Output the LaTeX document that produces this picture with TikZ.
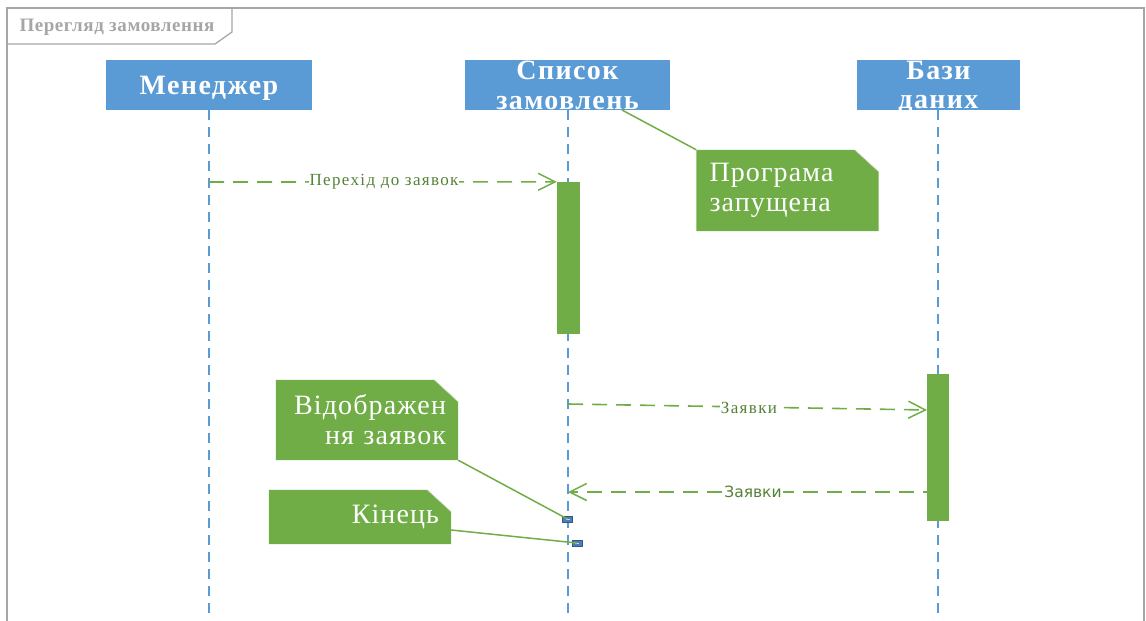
\documentclass[tikz,border=0pt]{standalone}
\usepackage{fontspec}
\setmainfont{Liberation Serif}
\newfontfamily\labelsans{DejaVu Sans}
\usetikzlibrary{arrows.meta,backgrounds,calc}

\definecolor{lifeblue}{HTML}{5B9BD5}
\definecolor{actgreen}{HTML}{70AD47}
\definecolor{txtgreen}{HTML}{548235}
\definecolor{framegray}{HTML}{A6A6A6}
\definecolor{markblue}{HTML}{4A7EBB}
\definecolor{foldgray}{HTML}{C9D8BE}

\tikzset{
  header/.style={fill=lifeblue, text=white, inner sep=0pt,
    font=\fontsize{28}{29.5}\selectfont\bfseries\addfontfeature{LetterSpace=5},
    align=center, minimum height=50pt, text depth=0pt},
  lifeline/.style={lifeblue, line width=1.6pt, dash pattern=on 10pt off 7pt},
  actbar/.style={fill=actgreen, draw=none, inner sep=0pt, minimum width=22pt},
  msg/.style={actgreen, line width=1.6pt, dash pattern=on 15pt off 9pt,
    -{Straight Barb[length=17pt,width=17pt,line width=1.5pt]}},
  msglabel/.style={fill=white, inner sep=1pt, text=txtgreen,
    font=\fontsize{17}{19}\selectfont\addfontfeature{LetterSpace=8}},
  notebox/.style={text=white, inner sep=0pt, minimum width=182pt,
    font=\fontsize{28}{30}\selectfont\addfontfeature{LetterSpace=4}},
  noteline/.style={actgreen, line width=1.5pt},
  marker/.style={fill=markblue, draw=markblue!70!black, line width=0.4pt,
    inner sep=0pt, minimum width=10pt, minimum height=6pt},
}

% green note with folded top-right corner, drawn behind the named node
\newcommand\foldnote[1]{%
  \begin{scope}[on background layer]
    \fill[actgreen] (#1.south west) -- (#1.south east)
      -- ($(#1.north east)+(0,22)$) -- ($(#1.north east)+(-24,0)$)
      -- (#1.north west) -- cycle;
    \draw[foldgray, line width=0.6pt] ($(#1.north east)+(-24,0)$)
      -- ($(#1.north east)+(0,22)$);
  \end{scope}}

\begin{document}
\begin{tikzpicture}[x=1pt,y=-1pt]
\useasboundingbox (0,0) rectangle (1146,621);

% frame and title tab
\draw[framegray, line width=1.3pt] (7,621) -- (7,8) -- (1144,8) -- (1144,621);
\draw[framegray, line width=1.3pt] (232,8) -- (232,32) -- (215,44) -- (7,44);
\node[text=framegray, font=\fontsize{19}{21}\selectfont\bfseries\addfontfeature{LetterSpace=3}]
  (title) at (117,27) {Перегляд замовлення};

% lifeline heads
\node[header, minimum width=206pt] (mgr) at (209,85) {Менеджер};
\node[header, minimum width=205pt] (lst) at (567.5,85) {Список\\замовлень};
\node[header, minimum width=163pt] (db)  at (938.5,85) {Бази\\даних};

% lifelines
\coordinate (mgrEnd) at (209,615);
\coordinate (lstEnd) at (568,615);
\coordinate (dbEnd)  at (938,615);
\draw[lifeline] (209,110) -- (mgrEnd);
\draw[lifeline] (568,110) -- (lstEnd);
\draw[lifeline] (938,110) -- (dbEnd);

% activation bars
\node[actbar, minimum width=23pt, minimum height=152pt] (act1) at (568.5,258) {};
\node[actbar, minimum width=22pt, minimum height=147pt] (act2) at (938,447.5) {};

% messages
\coordinate (m1s) at (209,182);
\draw[msg] (m1s) -- (act1.north west);
\node[msglabel] (l1) at (384,182) {Перехід до заявок};

\coordinate (m2s) at (568,404);
\coordinate (m2e) at (927,410);
\draw[msg] (m2s) -- (m2e);
\node[msglabel] (l2) at (749,407.5) {Заявки};

\coordinate (m3s) at (938,492);
\coordinate (m3e) at (568,492);
\draw[msg] (m3s) -- (m3e);
\node[msglabel, font=\labelsans\fontsize{15.5}{18}\selectfont] (l3) at (753,492) {Заявки};

% notes
\node[notebox, minimum height=81pt, text width=156pt, align=left] (n1) at (787.5,190.5)
  {Програма\\запущена};
\foldnote{n1}
\node[notebox, minimum height=80pt, text width=158pt, align=right] (n2) at (367,420)
  {Відображен\\ня заявок};
\foldnote{n2}
\node[notebox, minimum height=54pt, text width=158pt, align=right] (n3) at (360,517)
  {Кінець};
\foldnote{n3}

% execution markers
\node[marker] (k1) at (567.5,519) {};
\node[marker] (k2) at (577,543) {};
\draw[white!70!markblue, line width=0.8pt] ([xshift=-2pt]k1.center) -- ([xshift=2pt]k1.center);
\draw[white!70!markblue, line width=0.8pt] ([xshift=-2pt]k2.center) -- ([xshift=2pt]k2.center);

% note anchors
\coordinate (h1) at (622,110);
\coordinate (p3) at (451,530);
\draw[noteline] (h1) -- (n1.north west);
\draw[noteline] (n2.south east) -- (k1.center);
\draw[noteline] (p3) -- (k2.center);
\end{tikzpicture}
\end{document}
